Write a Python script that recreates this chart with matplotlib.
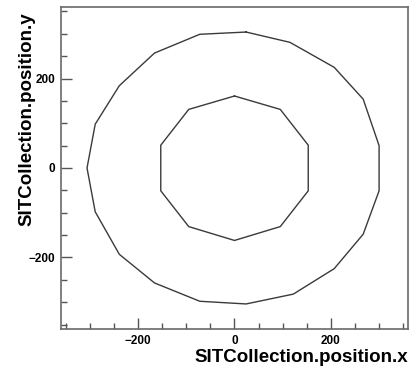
import numpy as np
import matplotlib
matplotlib.use("Agg")
import matplotlib.pyplot as plt
from matplotlib.ticker import MultipleLocator

# SIT hit outlines in the x-y plane (mm): inner and outer ladder layers
inner_x = [0, 95, 153, 153, 95, 0, -95, -153, -153, -95]
inner_y = [161, 131, 51, -51, -131, -162, -131, -51, 51, 131]

outer_x = [24, 115, 207, 267, 300, 300, 267, 207, 122, 24,
           -72, -166, -239, -289, -306, -289, -239, -166, -72]
outer_y = [304, 281, 225, 154, 50, -51, -148, -225, -282, -304,
           -298, -257, -193, -98, 0, 98, 184, 257, 299]

x_range = (-360, 360)
y_range = (-360, 360)
x_title = "SITCollection.position.x"
y_title = "SITCollection.position.y"

plt.rcParams["font.family"] = ["Liberation Sans", "DejaVu Sans"]
plt.rcParams["font.weight"] = "bold"

fig = plt.figure(figsize=(4.10, 3.72), dpi=100)
ax = fig.add_axes([61 / 410, 1 - 329 / 372, 347 / 410, 322 / 372])

for xs, ys in [(inner_x, inner_y), (outer_x, outer_y)]:
    xs = np.append(xs, xs[0])
    ys = np.append(ys, ys[0])
    ax.plot(xs, ys, color="#3a3a3a", lw=1.0, solid_joinstyle="round")

ax.set_xlim(*x_range)
ax.set_ylim(*y_range)

frame_col = "#6a6a6a"
for side in ax.spines.values():
    side.set_color(frame_col)
    side.set_linewidth(1.2)

ax.xaxis.set_major_locator(MultipleLocator(200))
ax.xaxis.set_minor_locator(MultipleLocator(50))
ax.yaxis.set_major_locator(MultipleLocator(200))
ax.yaxis.set_minor_locator(MultipleLocator(50))
ax.tick_params(which="both", direction="in", top=False, right=False,
               color="#555555", width=1.0)
ax.tick_params(which="major", length=8, labelsize=8.5, pad=4)
ax.tick_params(which="minor", length=4)
for lab in ax.get_xticklabels() + ax.get_yticklabels():
    lab.set_fontweight("bold")

# ROOT-style titles: x title flush right under the axis, y title flush top
ax.set_xlabel(x_title, fontsize=13.5, fontweight="bold", loc="right")
ax.set_ylabel(y_title, fontsize=13.5, fontweight="bold", loc="top")
ax.xaxis.set_label_coords(1.0, -0.062)
ax.yaxis.set_label_coords(-0.074, 0.984)

fig.savefig("out.png", dpi=100)
